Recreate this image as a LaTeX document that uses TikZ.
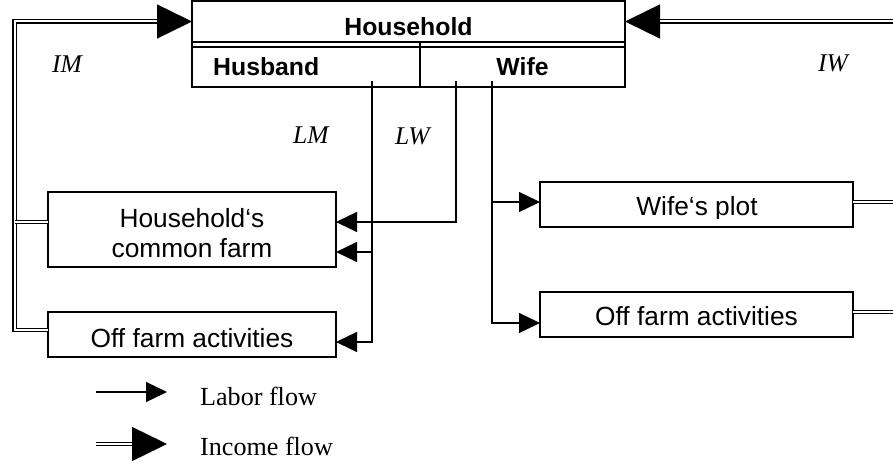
\documentclass[tikz,border=0pt]{standalone}
\usepackage{fontspec}
\setmainfont{Liberation Serif}
\newfontfamily\arialf{Liberation Sans}
\usetikzlibrary{arrows.meta}
\tikzset{
  box/.style={draw, line width=1.4pt, inner sep=0pt, outer sep=0pt},
  sans/.style={font=\arialf\fontsize{26.3}{30}\selectfont, inner sep=0pt},
  sansb/.style={font=\arialf\bfseries\fontsize{24.8}{30}\selectfont, inner sep=0pt},
  serif/.style={font=\fontsize{26.1}{30}\selectfont, inner sep=0pt},
  serifit/.style={font=\itshape\fontsize{25.5}{30}\selectfont, inner sep=0pt},
  labor/.style={line width=1.3pt, -{Triangle[length=21pt,width=20pt]}},
  income/.style={double, double distance=2pt, line width=1.4pt},
  incomearrow/.style={income, -{Triangle[length=35pt,width=34pt]}},
}
\begin{document}
\begin{tikzpicture}[x=1pt,y=-1pt]
\clip (0,0) rectangle (893,465);
\useasboundingbox (0,0) rectangle (893,465);

% household boxes
\node[box, minimum width=433pt, minimum height=41pt] (hhtop) at (408.5,21.5) {};
\node[box, minimum width=228pt, minimum height=40pt] (hus) at (306,67) {};
\node[box, minimum width=205pt, minimum height=40pt] (wif) at (522.5,67) {};
\draw[line width=1.4pt] (hhtop.south west) -- (hus.north west);
\draw[line width=1.4pt] (hhtop.south east) -- (wif.north east);
\draw[line width=1.4pt] (hhtop.south -| hus.east) -- (hus.north east);
\node[sansb, anchor=base] (thh) at (408.5,36) {Household};
\node[sansb, anchor=base west] (thus) at (213,76) {Husband};
\node[sansb, anchor=base] (twif) at (522.5,76) {Wife};

% activity boxes
\node[box, minimum width=288pt, minimum height=75pt] (cf) at (192,229.5) {};
\node[box, minimum width=288pt, minimum height=45pt] (lof) at (192,334.5) {};
\node[box, minimum width=313pt, minimum height=45pt] (wp) at (696.5,204.5) {};
\node[box, minimum width=313pt, minimum height=45pt] (rof) at (696.5,314.5) {};
\node[sans, anchor=base] (tcf1) at (192,227) {Household‘s};
\node[sans, anchor=base] (tcf2) at (192,257) {common farm};
\node[sans, anchor=base] (tlof) at (192,347) {Off farm activities};
\begin{scope}
\clip (540,182) rectangle (853,218);
\node[sans, anchor=base] (twp) at (697,215) {Wife‘s plot};
\end{scope}
\node[sans, anchor=base] (trof) at (696.5,325) {Off farm activities};

% italic labels
\node[serifit, anchor=base west] (lim) at (52,73) {IM};
\node[serifit, anchor=base west] (liw) at (818,72) {IW};
\node[serifit, anchor=base west] (llm) at (293,144) {LM};
\node[serifit, anchor=base west] (llw) at (395,145) {LW};

% labor flows
\coordinate (hm) at (372,81);
\coordinate (lw) at (456,81);
\coordinate (wl) at (492,81);
\draw[labor] (hm) |- ([yshift=-7.5pt]lof.east);
\draw[labor] ([yshift=-22.5pt]cf.east -| hm) -- ([yshift=-22.5pt]cf.east);
\draw[labor] (lw) |- ([yshift=7.5pt]cf.east);
\draw[labor] (wl) |- ([yshift=-8.5pt]rof.west);
\draw[labor] ([yshift=2.5pt]wp.west -| wl) -- ([yshift=2.5pt]wp.west);

% income flows
\coordinate (L) at (14.5,21.5);
\coordinate (R) at (905,21.5);
\draw[incomearrow] ([yshift=4.5pt]lof.west) -| (L) -- (hhtop.west);
\draw[income] ([yshift=7.5pt]cf.west) -- ([yshift=7.5pt]cf.west -| L);
\draw[incomearrow] ([yshift=2.5pt]rof.east) -| (R) -- (hhtop.east);
\draw[income] ([yshift=2.5pt]wp.east) -- ([yshift=2.5pt]wp.east -| R);

% legend
\coordinate (lga) at (96,392);
\coordinate (lgb) at (167,392);
\coordinate (lgc) at (96,444);
\coordinate (lgd) at (167,444);
\draw[labor] (lga) -- (lgb);
\draw[incomearrow] (lgc) -- (lgd);
\node[serif, anchor=base west] (tlab) at (200,405) {Labor flow};
\node[serif, anchor=base west] (tinc) at (200,455) {Income flow};
\end{tikzpicture}
\end{document}
